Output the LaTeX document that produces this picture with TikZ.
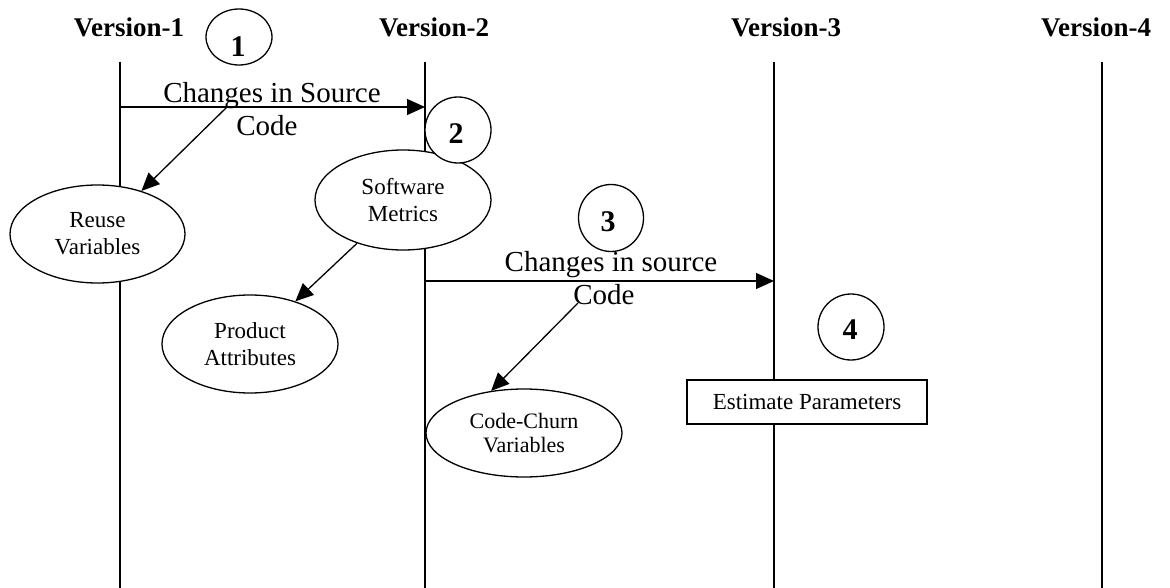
\documentclass[tikz,border=0pt]{standalone}
\usepackage{fontspec}
\setmainfont{Liberation Serif}
\usetikzlibrary{arrows.meta,shapes.geometric}
\begin{document}
\begin{tikzpicture}[x=1pt,y=-1pt,
  every path/.style={line width=1.3pt},
  lifeline/.style={draw=black,line width=1.3pt},
  msg/.style={draw=black,line width=1.3pt,-{Triangle[length=18pt,width=16pt]}},
  heading/.style={font=\fontsize{27}{30}\selectfont\bfseries,anchor=base,inner sep=0pt},
  msglabel/.style={font=\fontsize{29}{33}\selectfont,anchor=base,inner sep=0pt},
  oval/.style={draw=black,line width=1.3pt,fill=white,ellipse,inner sep=0pt,align=center,
               font=\fontsize{23}{27}\selectfont},
  numring/.style={draw=black,line width=1.3pt,fill=white,ellipse,inner sep=0pt},
  numtext/.style={font=\fontsize{30}{32}\selectfont\bfseries,inner sep=0pt},
  taskbox/.style={draw=black,line width=1.3pt,fill=white,rectangle,inner sep=0pt,
                  minimum width=240pt,minimum height=44pt,font=\fontsize{23}{26}\selectfont}
]
\useasboundingbox (0,0) rectangle (1170,588);

% version headings
\node[heading] (h1) at (129,37) {Version-1};
\node[heading] (h2) at (434,37) {Version-2};
\node[heading] (h3) at (786,37) {Version-3};
\node[heading] (h4) at (1096,37) {Version-4};

% lifelines
\coordinate (v1t) at (120,62);  \coordinate (v1b) at (120,588);
\coordinate (v2t) at (425,62);  \coordinate (v2b) at (425,588);
\coordinate (v3t) at (774,62);  \coordinate (v3b) at (774,588);
\coordinate (v4t) at (1102,62); \coordinate (v4b) at (1102,588);
\draw[lifeline] (v1t) -- (v1b);
\draw[lifeline] (v2t) -- (v2b);
\draw[lifeline] (v3t) -- (v3b);
\draw[lifeline] (v4t) -- (v4b);

% messages between versions
\coordinate (m1s) at (120,107); \coordinate (m1e) at (425,107);
\draw[msg] (m1s) -- (m1e);
\node[msglabel] (m1a) at (272,103) {Changes in Source};
\node[msglabel] (m1b) at (267,136) {Code};

\coordinate (m3s) at (425,281); \coordinate (m3e) at (774,281);
\draw[msg] (m3s) -- (m3e);
\node[msglabel] (m3a) at (611,271) {Changes in source};
\node[msglabel] (m3b) at (604,304) {Code};

% derived items
\node[oval,minimum width=175pt,minimum height=98pt] (reuse) at (97.5,234) {Reuse\\Variables};
\node[oval,minimum width=176pt,minimum height=100pt] (metrics) at (403,200) {Software\\Metrics};
\node[oval,minimum width=176pt,minimum height=98pt] (product) at (250,344) {Product\\Attributes};
\node[oval,minimum width=196pt,minimum height=88pt,font=\fontsize{22}{24}\selectfont]
  (churn) at (524,433) {Code-Churn\\Variables};
\node[taskbox] (estimate) at (807,402) {Estimate Parameters};

% step markers
\node[numring,minimum width=66pt,minimum height=56pt] (c1) at (239,37) {};
\node[numtext] (n1) at (238,47) {1};
\node[numring,minimum width=66pt,minimum height=66pt] (c2) at (458,130) {};
\node[numtext] (n2) at (456,134) {2};
\node[numring,minimum width=65pt,minimum height=67pt] (c3) at (611,218) {};
\node[numtext] (n3) at (608,222) {3};
\node[numring,minimum width=66pt,minimum height=66pt] (c4) at (851,327) {};
\node[numtext] (n4) at (850,330) {4};

% derivation arrows
\coordinate (d1) at (227,107);
\coordinate (d3) at (578,303);
\draw[msg] (d1) -- (reuse);
\draw[msg] (metrics) -- (product);
\draw[msg] (d3) -- (churn.128);
\end{tikzpicture}
\end{document}
